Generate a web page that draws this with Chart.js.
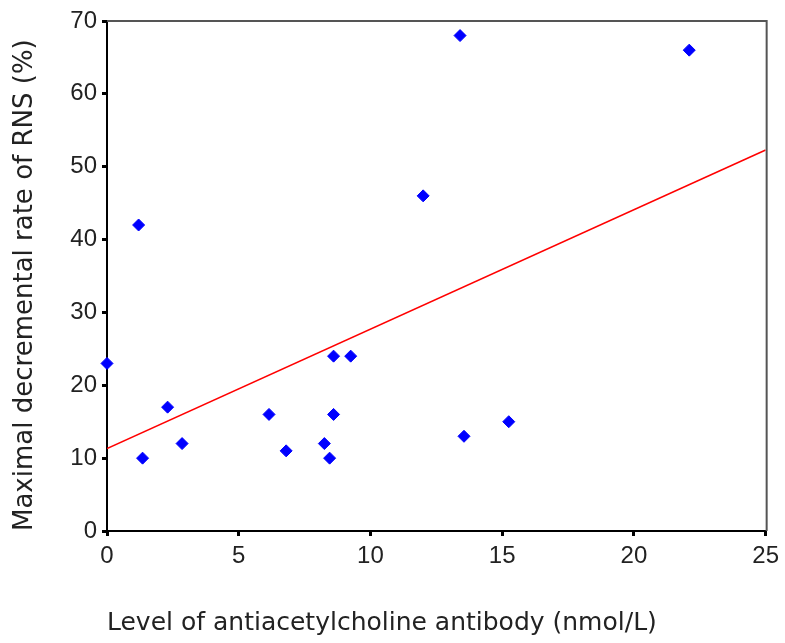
<!DOCTYPE html>
<html>
<head>
<meta charset="utf-8">
<script src="https://cdn.jsdelivr.net/npm/chart.js@4/dist/chart.umd.min.js"></script>
<style>
    html, body { margin: 0; padding: 0; background: #fff; }
    #wrap { width: 785px; height: 643px; }
</style>
</head>
<body>
<div id="wrap"><canvas id="scatter-chart"></canvas></div>
<script>
// antibody level (nmol/L) and maximal decremental rate (%) per patient
const antibodyLevels = [0, 1.2, 1.35, 2.3, 2.85, 6.15, 6.8, 8.25, 8.45, 8.6, 8.6, 9.25, 12.0, 13.4, 13.55, 15.25, 22.1];
const decrementRates = [23, 42, 10, 17, 12, 16, 11, 12, 10, 24, 16, 24, 46, 68, 13, 15, 66];

// fitted line at both ends of the x axis
const fitX = [0, 25];
const fitY = [11.3, 52.3];

const xTicks = [0, 5, 10, 15, 20, 25];
const yTicks = [0, 10, 20, 30, 40, 50, 60, 70];

function main() {
    const canvas = document.querySelector("#scatter-chart");

    const points = antibodyLevels.map((x, i) => ({ x: x, y: decrementRates[i] }));
    const fitLine = fitX.map((x, i) => ({ x: x, y: fitY[i] }));

    // top and right edges of the plot box
    const boxPlugin = {
        id: "box",
        afterDraw(chart) {
            const { ctx, chartArea } = chart;
            ctx.save();
            ctx.strokeStyle = "#555";
            ctx.lineWidth = 2;
            ctx.beginPath();
            ctx.moveTo(chartArea.left, chartArea.top);
            ctx.lineTo(chartArea.right + 1, chartArea.top);
            ctx.lineTo(chartArea.right + 1, chartArea.bottom);
            ctx.stroke();
            ctx.restore();
        },
    };

    const tickFont = { family: "'Liberation Sans', Arial, sans-serif", size: 24 };

    const config = {
        type: "scatter",
        data: {
            datasets: [
                {
                    label: "patients",
                    data: points,
                    pointStyle: "rectRot",
                    pointRadius: 6,
                    pointBackgroundColor: "#0000ff",
                    pointBorderColor: "#0000ff",
                    pointBorderWidth: 1,
                    clip: false,
                    order: 1,
                },
                {
                    type: "line",
                    label: "fit",
                    data: fitLine,
                    borderColor: "#ff0000",
                    borderWidth: 1.5,
                    pointRadius: 0,
                    fill: false,
                    order: 2,
                },
            ],
        },
        options: {
            responsive: true,
            maintainAspectRatio: false,
            animation: false,
            layout: { padding: { left: 0, top: 21, right: 18, bottom: 0 } },
            plugins: {
                legend: { display: false },
                tooltip: { enabled: false },
            },
            scales: {
                x: {
                    type: "linear",
                    min: 0,
                    max: 25,
                    afterBuildTicks: (scale) => {
                        scale.ticks = xTicks.map((v) => ({ value: v }));
                    },
                    afterFit: (scale) => {
                        scale.height = 112;
                    },
                    ticks: {
                        color: "#222",
                        font: tickFont,
                        padding: 6,
                        maxRotation: 0,
                    },
                    grid: {
                        drawOnChartArea: false,
                        drawTicks: true,
                        tickLength: 5,
                        lineWidth: 3,
                        color: "#000",
                    },
                    border: { display: true, color: "#000", width: 2 },
                    title: {
                        display: true,
                        text: "Level of antiacetylcholine antibody (nmol/L)",
                        align: "start",
                        color: "#222",
                        font: { family: "'DejaVu Sans', sans-serif", size: 25 },
                        padding: { top: 0, bottom: 5 },
                    },
                },
                y: {
                    type: "linear",
                    min: 0,
                    max: 70,
                    afterBuildTicks: (scale) => {
                        scale.ticks = yTicks.map((v) => ({ value: v }));
                    },
                    afterFit: (scale) => {
                        scale.width = 107;
                    },
                    ticks: {
                        color: "#222",
                        font: tickFont,
                        padding: 5,
                    },
                    grid: {
                        drawOnChartArea: false,
                        drawTicks: true,
                        tickLength: 5,
                        lineWidth: 3,
                        color: "#000",
                    },
                    border: { display: true, color: "#000", width: 2 },
                    title: {
                        display: true,
                        text: "Maximal decremental rate of RNS (%)",
                        align: "start",
                        color: "#222",
                        font: { family: "'DejaVu Sans', sans-serif", size: 26 },
                        padding: { top: 10, bottom: 0 },
                    },
                },
            },
        },
        plugins: [boxPlugin],
    };

    new Chart(canvas, config);
}

main();
</script>
</body>
</html>
